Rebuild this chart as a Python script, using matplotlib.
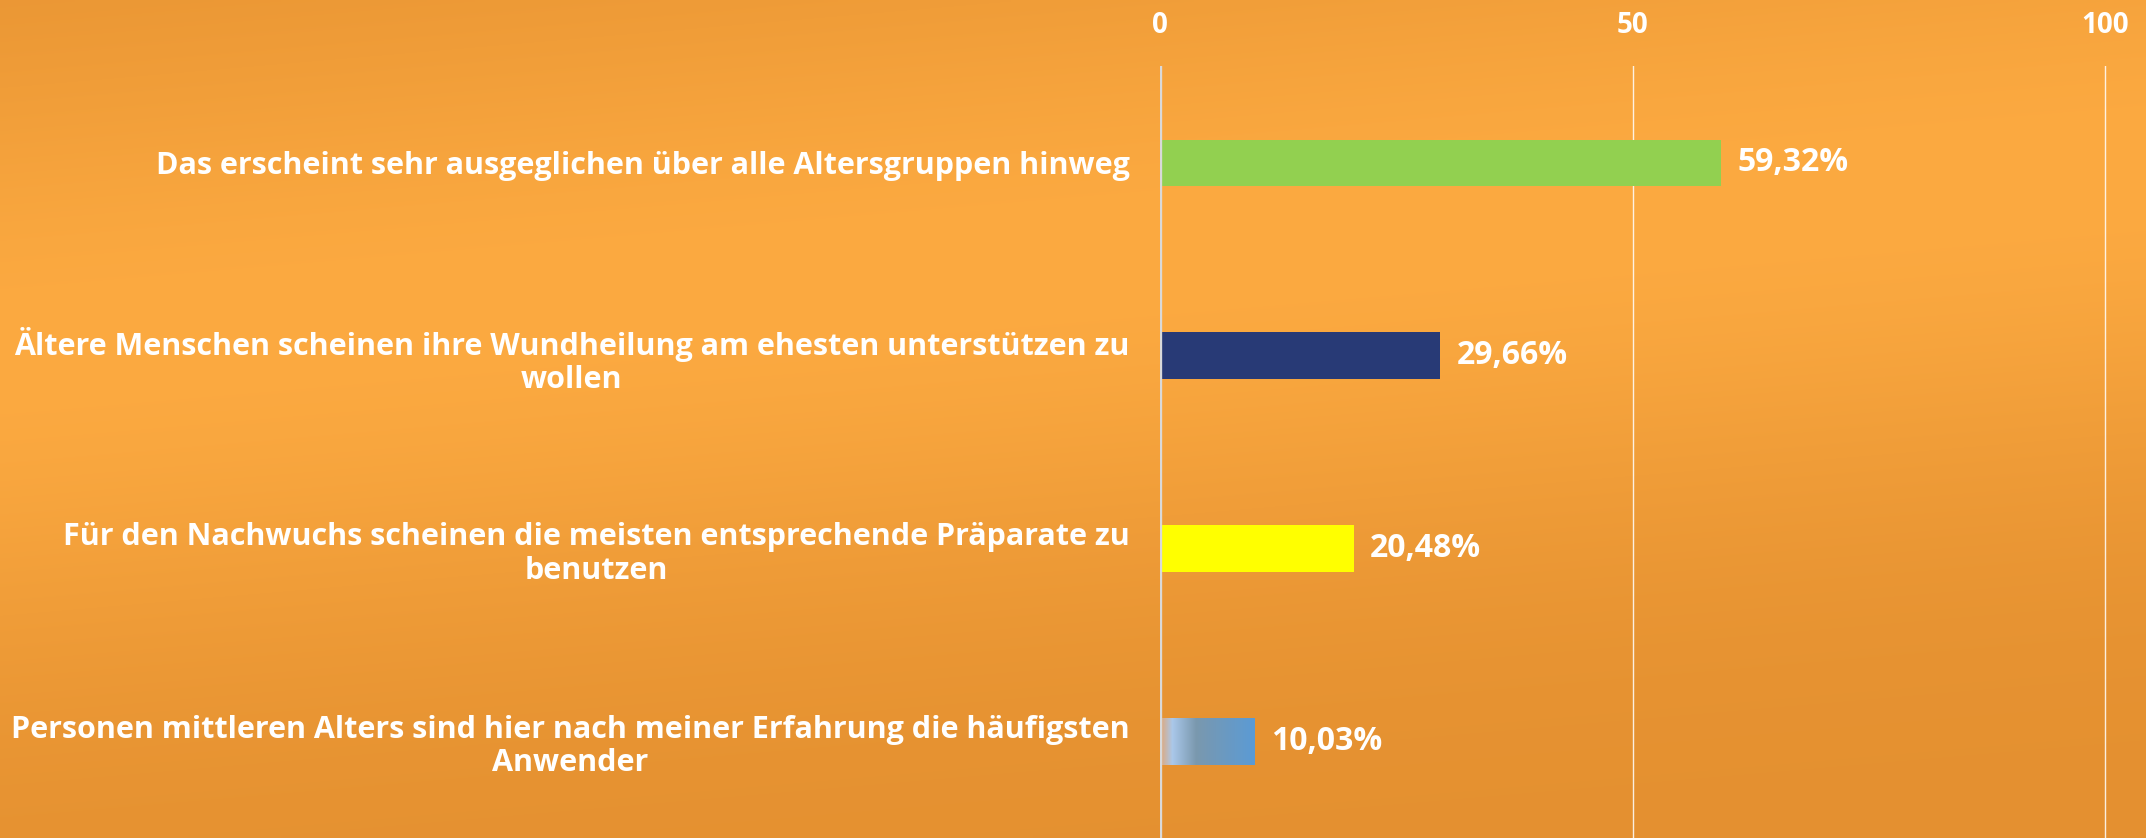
import numpy as np
import matplotlib
matplotlib.use("Agg")
import matplotlib.pyplot as plt
from matplotlib.colors import LinearSegmentedColormap, to_rgb

# data
categories = [
    "Das erscheint sehr ausgeglichen über alle Altersgruppen hinweg",
    "Ältere Menschen scheinen ihre Wundheilung am ehesten unterstützen zu\nwollen",
    "Für den Nachwuchs scheinen die meisten entsprechende Präparate zu\nbenutzen",
    "Personen mittleren Alters sind hier nach meiner Erfahrung die häufigsten\nAnwender",
]
values = [59.32, 29.66, 20.48, 10.03]
value_labels = ["59,32%", "29,66%", "20,48%", "10,03%"]
bar_colors = ["#92D050", "#283A76", "#FFFF00", None]  # last one is a gradient
x_ticks = [0, 50, 100]

plt.rcParams['font.family'] = ['Open Sans', 'DejaVu Sans']
plt.rcParams['font.weight'] = 'bold'

W, H = 2146, 838
fig = plt.figure(figsize=(W / 100, H / 100), dpi=100)

# orange background with a soft lighter diagonal band
bg = fig.add_axes([0, 0, 1, 1], zorder=-10)
bg.set_axis_off()
xx, yy = np.meshgrid(np.linspace(0, 1, 400), np.linspace(0, 1, 160))
centre = 0.42 - 0.22 * xx
f = np.exp(-((yy - centre) / 0.38) ** 2)
dark = np.array([228, 144, 48]) / 255
light = np.array([252, 170, 65]) / 255
img = dark[None, None, :] + (light - dark)[None, None, :] * f[:, :, None]
bg.imshow(img, aspect='auto', extent=[0, 1, 1, 0], interpolation='bilinear')
bg.set_xlim(0, 1)
bg.set_ylim(1, 0)

x0 = 1160 / W
x100 = 2105 / W
xmax = 101
ax = fig.add_axes([x0, 0, (x100 - x0) * xmax / 100, 0.921])
ax.patch.set_alpha(0)

y = np.arange(len(categories))
h = 0.24
bars = ax.barh(y, values, height=h, zorder=2,
               color=[c if c else 'none' for c in bar_colors])

# gradient fill for the last bar
grad = LinearSegmentedColormap.from_list("g", [
    (0.0, to_rgb("#E2A776")),
    (0.13, to_rgb("#AAC8EA")),
    (0.38, to_rgb("#7A98AE")),
    (1.0, to_rgb("#5B9BD5")),
])
for i, c in enumerate(bar_colors):
    if c is None:
        im = ax.imshow(np.linspace(0, 1, 256)[None, :], cmap=grad, aspect='auto',
                       extent=[0, values[i], y[i] + h / 2, y[i] - h / 2], zorder=2)
        im.set_clip_path(bars[i])

for i, v in enumerate(values):
    ax.annotate(value_labels[i], xy=(v, y[i]), xytext=(12, 0), textcoords='offset points',
                va='center', ha='left', color='white', fontsize=23, fontweight='bold')

# grid lines
for t in x_ticks:
    if t == 0:
        ax.axvline(t, color='#D9D9D9', lw=2.4, zorder=3)
    else:
        ax.axvline(t, color='#FFFFFF', lw=1.0, alpha=0.85, zorder=1)

ax.set_xlim(0, xmax)
ax.set_ylim(len(categories) - 0.5, -0.5)
ax.xaxis.tick_top()
ax.set_xticks(x_ticks)
ax.set_xticklabels([str(t) for t in x_ticks])
ax.tick_params(axis='x', length=0, pad=19, labelcolor='white', labelsize=20)
ax.set_yticks(y)
ax.set_yticklabels(categories)
ax.tick_params(axis='y', length=0, pad=22, labelcolor='white', labelsize=22)
for lab in ax.get_yticklabels():
    lab.set_multialignment('center')
    lab.set_linespacing(1.15)
for s in ax.spines.values():
    s.set_visible(False)

fig.savefig("out.png", dpi=100)
